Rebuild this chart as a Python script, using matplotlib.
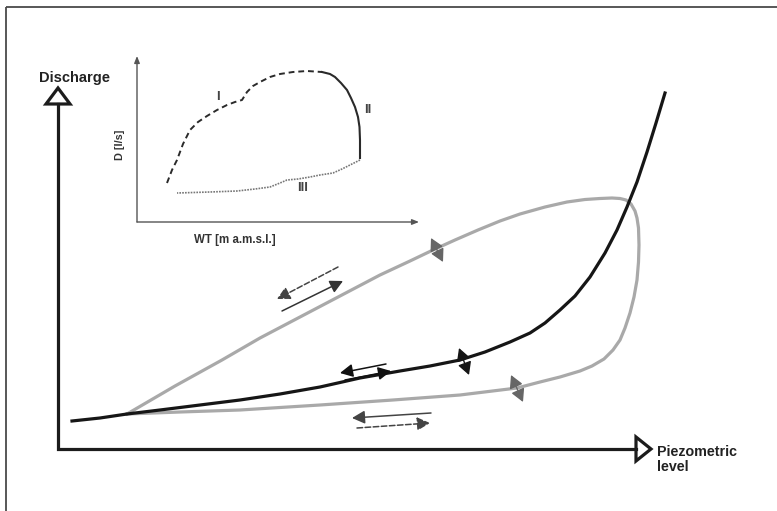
import matplotlib
matplotlib.use('Agg')
import matplotlib.pyplot as plt
from matplotlib.patches import FancyArrowPatch, Polygon

plt.rcParams['font.family'] = ['Liberation Sans', 'DejaVu Sans']

# --- main diagram (pixel-like coordinates, y grows downward) ---
rating_x = [72, 100, 127, 160, 200, 240, 280, 320, 360, 400, 430, 460, 485, 510, 530, 545,
            560, 575, 590, 605, 617, 627, 637, 647, 656, 665]
rating_y = [421, 418, 414, 410, 405, 400, 394, 387, 378, 371, 366, 360, 352, 342, 333, 323,
            310, 296, 277, 253, 230, 207, 182, 152, 123, 93]

loop_x = [127, 175, 222, 260, 300, 340, 380, 410, 433, 455, 478, 500, 520, 545, 567, 585, 600,
          612, 620, 626, 631, 635, 637, 638.5, 639, 638.5, 637, 634, 630, 625, 620, 613, 604,
          592, 580, 560, 540, 517, 460, 393, 320, 240, 180, 127]
loop_y = [414, 386, 360, 338, 317, 296, 275, 261, 250, 240, 230, 221, 214, 207, 202, 199.5, 198.5,
          198, 198.5, 200, 204, 211, 218, 228, 245, 262, 280, 297, 313, 328, 340, 350, 359,
          366, 371, 377, 382, 388, 395, 400, 405, 410, 412, 414]

# direction arrows: (tail, head, linestyle, line colour)
dir_arrows = [
    ((338, 267), (277, 299), '--', '#444444'),
    ((282, 311), (343, 281), '-', '#333333'),
    ((386, 364), (340, 373), '-', '#111111'),
    ((345, 380), (391, 371), '-', '#111111'),
    ((431, 413), (352, 418), '-', '#444444'),
    ((357, 428), (430, 423), '--', '#444444'),
]
dir_heads = ['#666666', '#666666', '#111111', '#111111', '#666666', '#666666']

# double-headed arrows crossing the curves
cross_arrows = [((431, 238), (443, 262)), ((459, 348), (469, 375)), ((511, 375), (523, 402))]
cross_colors = ['#666666', '#151515', '#666666']

# --- inset ---
inset_I_x = [167, 172, 177, 183, 190, 198, 207, 217, 227, 235, 242, 247, 253, 260, 270, 280, 293, 307, 322]
inset_I_y = [183, 170, 160, 144, 130, 122, 116, 110, 105, 102, 100, 92, 86, 82, 77, 74, 72, 71, 72]
inset_II_x = [322, 330, 335, 341, 347, 351, 355, 358, 359.5, 360, 360]
inset_II_y = [72, 74, 77, 83, 90, 98, 107, 117, 127, 140, 158]
inset_III_x = [360, 350, 342, 333, 320, 310, 298, 287, 280, 270, 255, 237, 210, 177]
inset_III_y = [160, 165, 169, 173, 175, 177, 179, 180, 183, 187, 189, 191, 192, 193]

fig = plt.figure(figsize=(7.77, 5.11), dpi=100)
ax = fig.add_axes([0, 0, 1, 1])
ax.set_xlim(0, 777)
ax.set_ylim(511, 0)
ax.axis('off')

# frame
ax.plot([6, 777], [7, 7], color='#4a4a4a', lw=1.3, solid_capstyle='butt')
ax.plot([6, 6], [7, 511], color='#4a4a4a', lw=1.3, solid_capstyle='butt')

# main axes with open triangle heads
axis_col = '#1c1c1c'
ox, oy = 58, 449
ax.plot([ox, ox, 636], [104, oy, oy], color=axis_col, lw=2.3, solid_joinstyle='miter')
ax.add_patch(Polygon([(ox - 12, 104), (ox + 12, 104), (ox, 88)], closed=True,
                     facecolor='white', edgecolor=axis_col, lw=2.3, joinstyle='miter'))
ax.add_patch(Polygon([(636, oy - 12), (636, oy + 12), (651, oy)], closed=True,
                     facecolor='white', edgecolor=axis_col, lw=2.3, joinstyle='miter'))
ax.text(75, 78, 'Discharge', fontsize=10.5, fontweight='bold', color='#222222',
        ha='center', va='center')
ax.text(657, 445, 'Piezometric\nlevel', fontsize=10.3, fontweight='bold', color='#222222',
        ha='left', va='top', linespacing=1.05)

# curves
ax.plot(loop_x, loop_y, color='#a9a9a9', lw=2.3, solid_joinstyle='round', zorder=3)
ax.plot(rating_x, rating_y, color='#161616', lw=2.3, solid_joinstyle='round', zorder=4)

for (tail, head, ls, lc), hc in zip(dir_arrows, dir_heads):
    ax.add_patch(FancyArrowPatch(tail, head, arrowstyle='-|>,head_length=0.7,head_width=0.36',
                                 mutation_scale=11, lw=1.1, linestyle=ls, color=lc,
                                 facecolor=hc, shrinkA=0, shrinkB=0, zorder=5))

for (p0, p1), c in zip(cross_arrows, cross_colors):
    ax.add_patch(FancyArrowPatch(p0, p1, arrowstyle='<|-|>,head_length=0.7,head_width=0.38',
                                 mutation_scale=11, lw=1.0, color=c,
                                 shrinkA=0, shrinkB=0, zorder=6))

# inset axes
inset_col = '#555555'
ax.add_patch(FancyArrowPatch((137, 222), (137, 56), arrowstyle='-|>,head_length=0.5,head_width=0.2',
                             mutation_scale=8, lw=1.0, color=inset_col, shrinkA=0, shrinkB=0))
ax.add_patch(FancyArrowPatch((137, 222), (419, 222), arrowstyle='-|>,head_length=0.5,head_width=0.2',
                             mutation_scale=8, lw=1.0, color=inset_col, shrinkA=0, shrinkB=0))
ax.text(235, 240, 'WT [m a.m.s.l.]', fontsize=8.3, fontweight='bold', color='#333333',
        ha='center', va='center')
ax.text(120, 145, 'D [l/s]', fontsize=7.8, fontweight='bold', color='#333333',
        ha='center', va='center', rotation=90)

ax.plot(inset_I_x, inset_I_y, color='#2a2a2a', lw=1.4, linestyle=(0, (3, 2)),
        solid_joinstyle='round')
ax.plot(inset_II_x, inset_II_y, color='#2a2a2a', lw=1.5, solid_joinstyle='round')
ax.plot(inset_III_x, inset_III_y, color='#777777', lw=1.2, linestyle=(0, (1, 0.7)))

ax.text(218, 97, 'I', fontsize=9.5, fontweight='bold', color='#444444', ha='center', va='center')
ax.text(368, 110, 'II', fontsize=9.5, fontweight='bold', color='#444444', ha='center', va='center')
ax.text(303, 188, 'III', fontsize=9.5, fontweight='bold', color='#444444', ha='center', va='center')

fig.savefig('out.png', dpi=100, facecolor='white')
